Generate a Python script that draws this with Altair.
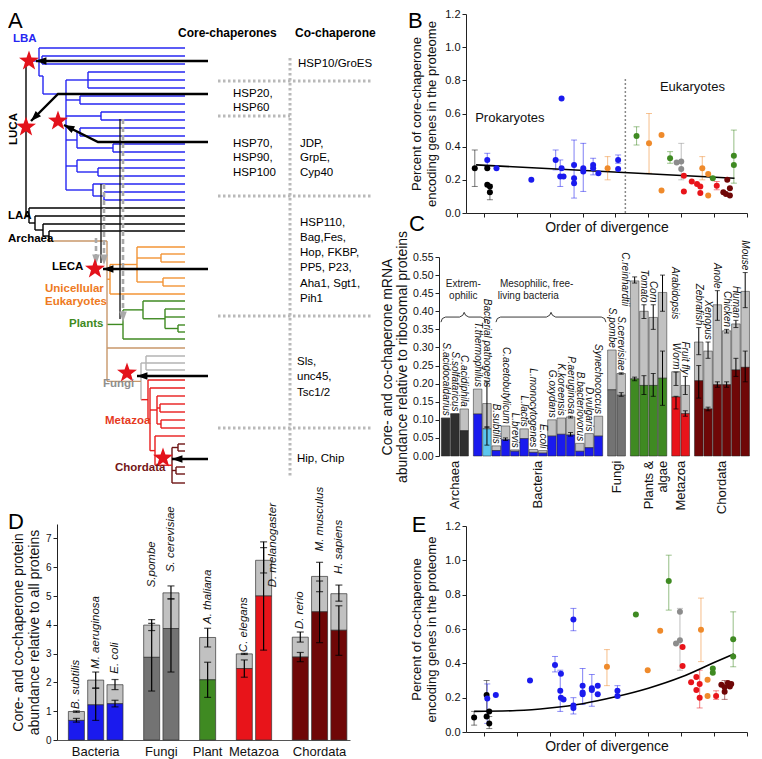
import math
import altair as alt
import pandas as pd

FONT = "Liberation Sans, Arial, Helvetica, sans-serif"

# ---------------- colours
BLUE = "#1a1aee"; BLACK = "#000000"; ORANGE = "#ef8a2b"; GREEN = "#3f8a22"
GREY = "#8c8c8c"; RED = "#e8141a"; DRED = "#6f0707"; CYAN = "#5dc6ee"
LIGHT = "#c1c1c1"; ARCHC = "#2f2f2f"; FUNGC = "#737373"
T_BLUE = "#2626f2"; T_ORANGE = "#f39436"; T_GREEN = "#3f8a22"; T_TAN = "#c8976a"
T_GREY = "#b3b3b3"; T_RED = "#e81c1c"; T_DRED = "#6d1414"; STARC = "#e3121b"; DOTC = "#b9b9b9"

# ---------------- layout (pixels)
A_W, A_H = 325, 474
D_W, D_H = 293, 216
B_W, B_H = 281, 199
C_W, C_H = 284, 199
E_W, E_H = 281, 206
SP_LEFT, SP_BC, SP_CE, SP_H = -2, -22, -2, -2
A_X0, A_Y0 = 57, 13

# ================= PANEL A data (schematic units)
a_head_txt = ["Core-chaperones", "Co-chaperone"]
a_head_x = [178, 295]
a_head_y = [32, 32]
a_txt = ["HSP10/GroES", "HSP20,", "HSP60", "HSP70,", "HSP90,", "HSP100", "JDP,", "GrpE,", "Cyp40",
         "HSP110,", "Bag,Fes,", "Hop, FKBP,", "PP5, P23,", "Aha1, Sgt1,", "Pih1", "Sls,", "unc45,", "Tsc1/2", "Hip, Chip"]
a_txt_x = [298, 233, 233, 233, 233, 233, 300, 300, 300, 300, 300, 300, 300, 300, 300, 297, 297, 297, 297]
a_txt_y = [63, 93, 107, 143, 157, 172, 143, 157, 172, 222, 237, 252, 267, 283, 298, 361, 376, 392, 458]
a_lab_txt = ["LBA", "LAA", "Archaea", "LECA", "Unicellular", "Eukaryotes", "Plants", "Fungi", "Metazoa", "Chordata"]
a_lab_x = [13, 8, 8, 52, 45, 45, 69, 103, 105, 115]
a_lab_y = [38, 215, 238, 266, 288, 301, 323, 383, 420, 467]
a_lab_col = [T_BLUE, BLACK, BLACK, BLACK, "#ee7a22", "#ee7a22", T_GREEN, "#8f8f8f", "#e63a1e", "#741616"]
star_x = [29, 26, 58, 95, 127, 163]
star_y = [60, 126, 120, 268, 372, 457]
arrow_paths = [[(208, 60), (36, 60)], [(208, 93), (58, 93), (31, 120)], [(208, 141), (98, 141), (64, 124)],
               [(208, 268), (103, 268)], [(208, 375), (137, 375)], [(208, 458), (172, 458)]]
grey_paths = [[(123, 118), (123, 312)], [(104, 183), (104, 256)], [(96, 237), (96, 256)]]
grey_tips = [(123, 321), (104, 264), (96, 264)]
thin_paths = [[(120, 118), (120, 318)], [(101, 183), (101, 262)]]
dot_x = [290, 218, 218, 218, 218, 218]
dot_x2 = [290, 372, 290, 372, 372, 372]
dot_y = [57, 80, 115, 195, 315, 427]
dot_y2 = [477, 80, 115, 195, 315, 427]

LEAF_END = 185


def N(x, col, kids, y=None, stem=None):
    return {"x": x, "c": col, "k": kids, "y": y, "s": stem}


blue_clade = N(39, T_BLUE, [47, N(42, T_BLUE, [55, 63]),
                            N(43, T_BLUE, [N(66, T_BLUE, [
                                N(88, T_BLUE, [71, 79, 87]),
                                N(80, T_BLUE, [95, 103]),
                                N(101, T_BLUE, [111, 119]),
                                N(77, T_BLUE, [N(80, T_BLUE, [127, 135]), N(113, T_BLUE, [143, 151])]),
                                N(77, T_BLUE, [159, N(98, T_BLUE, [167, 175])]),
                                N(93, T_BLUE, [183, N(104, T_BLUE, [191, 199])]),
                            ], y=93)], y=75)], y=60)
fungi_clade = N(146, T_GREY, [355, 362, 369])
chord_clade = N(172, T_DRED, [N(178, T_DRED, [443, 450]), 458, N(176, T_DRED, [466, 473]), 482], stem=T_RED)
meta_clade = N(148, T_RED, [379, N(150, T_RED, [387, N(157, T_RED, [395, N(160, T_RED, [403, 411]),
                                                                      N(161, T_RED, [419, 427])]),
                                                 N(155, T_RED, [435, chord_clade])])])
opist_clade = N(141, T_GREY, [fungi_clade, meta_clade], stem=T_TAN)
orange_clade = N(110, T_ORANGE, [N(137, T_ORANGE, [246, N(161, T_ORANGE, [253, 261]),
                                                   N(163, T_ORANGE, [277, 285])]), 293])
green_clade = N(123, T_GREEN, [N(143, T_GREEN, [300, N(165, T_GREEN, [308, 316, N(178, T_GREEN, [324, 331])])]), 338])
euk_clade = N(107, T_TAN, [orange_clade, green_clade, 347, opist_clade], y=240)
arch_clade = N(29, BLACK, [207, N(35, BLACK, [215, N(43, BLACK, [223, N(49, BLACK, [230, euk_clade])])])])
tree_root = N(26, BLACK, [blue_clade, arch_clade])

# ================= PANEL B data
b_grp = ["k"] * 5 + ["b"] * 18 + ["o"] * 7 + ["g"] * 5 + ["s"] * 3 + ["r"] * 7 + ["d"] * 5
b_x = [-0.14, 0.05, 0.05, 0.09, 0.09,
       0.05, 0.19, 0.72, 1.09, 1.18, 1.16, 1.21, 1.18, 1.37, 1.37, 1.37, 1.51, 1.51, 1.66, 1.66, 1.74, 2.04, 2.04,
       1.88, 2.51, 2.70, 2.70, 3.32, 3.41, 3.41,
       2.32, 2.83, 3.48, 3.80, 3.80,
       2.93, 3.00, 3.00,
       3.04, 3.04, 3.16, 3.24, 3.29, 3.29, 3.54,
       3.70, 3.74, 3.64, 3.68, 3.74]
b_y = [0.27, 0.27, 0.17, 0.16, 0.125,
       0.32, 0.27, 0.20, 0.32, 0.69, 0.22, 0.22, 0.27, 0.29, 0.21, 0.18, 0.27, 0.25, 0.29, 0.27, 0.24, 0.32, 0.265,
       0.27, 0.42, 0.47, 0.135, 0.27, 0.235, 0.105,
       0.465, 0.33, 0.21, 0.345, 0.29,
       0.305, 0.31, 0.265,
       0.225, 0.13, 0.19, 0.175, 0.16, 0.12, 0.165,
       0.20, 0.15, 0.125, 0.115, 0.105]
b_lo = [0.16, None, None, None, 0.08,
        0.28, None, None, 0.26, None, 0.16, None, None, None, None, 0.09, None, 0.13, None, 0.23, None, 0.30, None,
        0.20, 0.24, None, None, 0.20, None, None,
        0.41, 0.30, None, 0.18, None,
        None, 0.20, None,
        None, None, None, None, None, None, 0.14,
        None, None, None, None, None]
b_hi = [0.38, None, None, None, 0.17,
        0.36, None, None, 0.38, None, 0.32, None, None, None, None, 0.44, None, 0.42, None, 0.33, None, 0.35, None,
        0.34, 0.60, None, None, 0.34, None, None,
        0.52, 0.37, None, 0.50, None,
        None, 0.42, None,
        None, None, None, None, None, None, 0.19,
        None, None, None, None, None]
b_line_x = [-0.12, 3.81]
b_line_y = [0.29, 0.21]
b_div_x, b_div_top = 2.15, 0.82

# ================= PANEL E data
e_grp = ["k"] * 5 + ["b"] * 20 + ["o"] * 6 + ["g"] * 6 + ["s"] * 3 + ["r"] * 8 + ["d"] * 6
e_x = [-0.15, 0.04, 0.04, 0.08, 0.08,
       0.05, 0.18, 0.70, 1.08, 1.17, 1.16, 1.17, 1.21, 1.36, 1.36, 1.36, 1.50, 1.50, 1.50, 1.64, 1.64, 1.73, 1.73, 2.03, 2.03,
       1.87, 2.49, 2.68, 3.30, 3.40, 3.40,
       2.31, 2.81, 3.48, 3.48, 3.79, 3.79,
       2.92, 2.98, 2.98,
       3.02, 3.02, 3.15, 3.23, 3.23, 3.28, 3.28, 3.53,
       3.61, 3.66, 3.66, 3.71, 3.74, 3.76]
e_y = [0.084, 0.215, 0.09, 0.12, 0.05,
       0.195, 0.215, 0.30, 0.39, 0.34, 0.24, 0.20, 0.19, 0.655, 0.155, 0.14, 0.27, 0.23, 0.22, 0.255, 0.245, 0.27, 0.22, 0.24, 0.21,
       0.38, 0.36, 0.59, 0.595, 0.305, 0.21,
       0.685, 0.88, 0.37, 0.345, 0.54, 0.44,
       0.515, 0.535, 0.70,
       0.495, 0.385, 0.29, 0.32, 0.245, 0.28, 0.20, 0.21,
       0.275, 0.235, 0.26, 0.285, 0.265, 0.28]
e_lo = [0.04, 0.12, None, None, 0.02,
        0.05, None, None, 0.35, None, 0.12, None, None, 0.59, None, 0.105, 0.16, None, None, None, 0.15, None, None, 0.20, None,
        0.27, None, None, 0.41, None, None,
        None, 0.71, None, None, 0.38, None,
        None, None, 0.36,
        None, None, None, None, None, None, 0.14, 0.19,
        None, 0.19, None, None, None, None]
e_hi = [0.12, 0.30, None, None, 0.09,
        0.28, None, None, 0.44, None, 0.36, None, None, 0.72, None, 0.20, 0.37, None, None, None, 0.335, None, None, 0.27, None,
        0.48, None, None, 0.78, None, None,
        None, 1.03, None, None, 0.70, None,
        None, None, 0.72,
        None, None, None, None, None, None, 0.36, 0.24,
        None, 0.30, None, None, None, None]
e_line_x = [-0.15, 0.5, 1.0, 1.5, 2.0, 2.5, 3.0, 3.5, 3.8]
e_line_y = [0.12, 0.125, 0.14, 0.165, 0.205, 0.255, 0.32, 0.405, 0.455]

# ================= PANEL C data
c_names = ["S.acidocaldarius", "S.solfataricus", "C.acidiphila", "T.thermophilus", "Bacterial pathogens",
           "B.subtilis", "C.acetobutylicum", "L.brevis", "L.lactis", "L.monocytogenes", "E.coli", "G.oxydans",
           "K.koreensis", "P.aeruginosa", "B.bacteriovorus", "D.vulgaris", "Synechococcus", "S.pombe",
           "S.cerevisiae", "C.reinhardtii", "Tomato", "Corn", "Arabidopsis", "Worm", "Fruit fly", "Zebrafish",
           "Xenopus", "Anole", "Chicken", "Human", "Mouse"]
c_grp = ["Archaea"] * 3 + ["Bacteria"] * 14 + ["Fungi"] * 2 + ["Plants &|algae"] * 4 + ["Metazoa"] * 2 + ["Chordata"] * 6
c_core = [0.104, 0.116, 0.070, 0.116, 0.075, 0.015, 0.045, 0.013, 0.048, 0.010, 0.008, 0.055, 0.060, 0.058, 0.013,
          0.023, 0.055, 0.183, 0.168, 0.213, 0.195, 0.195, 0.215, 0.163, 0.117, 0.208, 0.130, 0.197, 0.197, 0.238, 0.245]
c_total = [0.105, 0.117, 0.130, 0.185, 0.145, 0.028, 0.083, 0.017, 0.075, 0.018, 0.015, 0.100, 0.105, 0.108, 0.035,
           0.062, 0.110, 0.293, 0.228, 0.484, 0.400, 0.383, 0.452, 0.233, 0.195, 0.315, 0.290, 0.418, 0.346, 0.365, 0.455]
c_core_lo = [None, None, None, None, 0.03, None, 0.043, None, None, None, None, None, None, 0.055, None, None, None,
             None, 0.165, 0.208, 0.17, 0.165, 0.14, 0.13, 0.11, 0.16, 0.125, 0.19, 0.19, 0.22, 0.205]
c_core_hi = [None, None, None, None, 0.08, None, 0.05, None, None, None, None, None, None, 0.065, None, None, None,
             None, 0.175, 0.218, 0.222, 0.228, 0.29, 0.165, 0.125, 0.25, 0.135, 0.205, 0.205, 0.27, 0.29]
c_tot_lo = [None, None, None, None, 0.08, None, None, None, None, None, None, None, None, 0.105, None, None, None,
            None, 0.226, 0.478, 0.38, 0.35, 0.40, 0.195, 0.17, 0.28, 0.27, 0.375, 0.34, 0.355, 0.41]
c_tot_hi = [None, None, None, None, 0.205, None, None, None, None, None, None, None, None, 0.11, None, None, None,
            None, 0.23, 0.495, 0.418, 0.418, 0.50, 0.232, 0.22, 0.355, 0.315, 0.457, 0.35, 0.375, 0.507]
c_lab_shift = [0] * 19 + [-1.0, 0, 0, 1.3] + [0] * 8
c_lab_y = [None] * 4 + [0.19] + [None] * 14 + [0.414, None, None, 0.378] + [None] * 8
c_brace_a = [-0.5, 5.42]
c_brace_b = [4.3, 17.26]
c_brace_tip = [2.0, 11.35]
c_brace_y = 0.384
c_brace_txt = ["Extrem-", "ophilic", "Mesophilic, free-", "living bacteria"]
c_brace_tx = [1.9, 1.9, 9.8, 8.9]
c_brace_ty = [0.476, 0.442, 0.476, 0.442]

# ================= PANEL D data
d_names = ["B. subtilis", "M. aeruginosa", "E. coli", "S.pombe", "S. cerevisiae", "A. thaliana", "C. elegans",
           "D. melanogaster", "D. rerio", "M. musculus", "H. sapiens"]
d_grp = ["Bacteria"] * 3 + ["Fungi"] * 2 + ["Plant"] + ["Metazoa"] * 2 + ["Chordata"] * 3
d_core = [0.68, 1.22, 1.26, 2.87, 3.87, 2.09, 2.48, 5.00, 2.88, 4.45, 3.81]
d_total = [0.99, 2.08, 1.92, 3.99, 5.11, 3.56, 2.99, 6.24, 3.57, 5.68, 5.08]
d_core_lo = [0.62, 0.68, 1.15, 1.70, 2.36, 1.48, 2.18, 3.12, 2.72, 3.38, 2.94]
d_core_hi = [0.75, 1.80, 1.38, 4.05, 4.90, 2.70, 2.78, 6.88, 3.04, 5.52, 4.66]
d_tot_lo = [0.96, 1.80, 1.75, 3.80, 4.90, 3.23, 2.97, 5.80, 3.40, 5.15, 4.82]
d_tot_hi = [1.01, 2.36, 2.10, 4.18, 5.35, 3.88, 3.01, 6.68, 3.75, 6.17, 5.38]
d_lab_y = [1.08, 2.47, 2.30, 5.30, 5.83, 4.03, 3.05, 5.30, 3.85, 6.55, 5.76]
d_lab_shift = [0, 0, 0, 0, 0, 0, 0, 0.5, 0, 0, 0]

GROUP_COL = {"Archaea": ARCHC, "Bacteria": BLUE, "Fungi": FUNGC, "Plants &|algae": GREEN, "Plant": GREEN,
             "Metazoa": RED, "Chordata": DRED}
PCOL = {"k": BLACK, "b": BLUE, "o": ORANGE, "g": GREEN, "s": GREY, "r": RED, "d": DRED}


def slots_with_gaps(groups, gap):
    out, s, prev = [], 0.0, None
    for g in groups:
        if prev is not None:
            s += 1 + (gap if g != prev else 0)
        out.append(s)
        prev = g
    return out


def num(v):
    return pd.to_numeric(pd.Series(v), errors="coerce")


# ================= PANEL A build
segs = []


def walk(node, parent_x):
    ys = []
    for ch in node["k"]:
        if isinstance(ch, dict):
            ys.append(walk(ch, node["x"]))
        else:
            segs.append((node["x"], LEAF_END, ch, ch, node["c"]))
            ys.append(ch)
    y = node["y"] if node["y"] is not None else (ys[0] + ys[-1]) / 2
    segs.append((node["x"], node["x"], min(ys + [y]), max(ys + [y]), node["c"]))
    if parent_x is not None:
        segs.append((parent_x, node["x"], y, y, node["s"] or node["c"]))
    return y


walk(tree_root, None)
seg_df = pd.DataFrame(segs, columns=["x", "x2", "y", "y2", "c"])

xa = alt.Scale(domain=[A_X0, A_X0 + A_W], nice=False, zero=False)
ya = alt.Scale(domain=[A_Y0, A_Y0 + A_H], nice=False, zero=False, reverse=True)


def AX(f="x"):
    return alt.X(f + ":Q", scale=xa, axis=None)


def AY(f="y"):
    return alt.Y(f + ":Q", scale=ya, axis=None)


star_pts = []
for i in range(10):
    r = 1.0 if i % 2 == 0 else 0.4
    ang = math.radians(-90 + 36 * i)
    star_pts.append(f"{r * math.cos(ang):.3f},{r * math.sin(ang):.3f}")
STAR_PATH = "M" + " L".join(star_pts) + " Z"
ARROW_PATH = "M0,0 L0.62,1.7 L-0.62,1.7 Z"


def path_df(paths):
    rows = []
    for i, p in enumerate(paths):
        for j, (x, y) in enumerate(p):
            rows.append((i, j, x, y))
    return pd.DataFrame(rows, columns=["id", "o", "x", "y"])


def head_df(paths):
    rows = []
    for p in paths:
        (x1, y1), (x2, y2) = p[-2], p[-1]
        rows.append((x2, y2, math.degrees(math.atan2(x2 - x1, -(y2 - y1))) % 360))
    return pd.DataFrame(rows, columns=["x", "y", "ang"])


dot_df = pd.DataFrame({"x": dot_x, "x2": dot_x2, "y": dot_y, "y2": dot_y2})
A_layers = [
    alt.Chart(dot_df).mark_rule(color=DOTC, strokeWidth=3, strokeDash=[2.5, 2.5]).encode(
        x=AX(), x2="x2:Q", y=AY(), y2="y2:Q"),
    alt.Chart(seg_df).mark_rule(strokeWidth=1.4).encode(
        x=AX(), x2="x2:Q", y=AY(), y2="y2:Q", color=alt.Color("c:N", scale=None)),
    alt.Chart(path_df(thin_paths)).mark_line(color="#111", strokeWidth=1.3).encode(
        x=AX(), y=AY(), detail="id:N", order="o:Q"),
    alt.Chart(path_df(grey_paths)).mark_line(color="#a9a9a9", strokeWidth=2.6, strokeDash=[5, 3]).encode(
        x=AX(), y=AY(), detail="id:N", order="o:Q"),
    alt.Chart(pd.DataFrame({"x": [t[0] for t in grey_tips], "y": [t[1] for t in grey_tips], "ang": [180] * 3}))
    .mark_point(shape=ARROW_PATH, filled=True, size=150, color="#a9a9a9", opacity=1, strokeWidth=0).encode(
        x=AX(), y=AY(), angle=alt.Angle("ang:Q", scale=None)),
    alt.Chart(pd.DataFrame({"x": star_x, "y": star_y})).mark_point(
        shape=STAR_PATH, filled=True, size=440, color=STARC, opacity=1, strokeWidth=0).encode(x=AX(), y=AY()),
    alt.Chart(path_df(arrow_paths)).mark_line(color="#000", strokeWidth=2.4).encode(
        x=AX(), y=AY(), detail="id:N", order="o:Q"),
    alt.Chart(head_df(arrow_paths)).mark_point(
        shape=ARROW_PATH, filled=True, size=150, color="#000", opacity=1, strokeWidth=0).encode(
        x=AX(), y=AY(), angle=alt.Angle("ang:Q", scale=None)),
    alt.Chart(pd.DataFrame({"x": a_lab_x, "y": a_lab_y, "t": a_lab_txt, "c": a_lab_col})).mark_text(
        align="left", baseline="middle", fontSize=11.5, fontWeight="bold", font=FONT).encode(
        x=AX(), y=AY(), text="t:N", color=alt.Color("c:N", scale=None)),
    alt.Chart(pd.DataFrame({"x": [14], "y": [128], "t": ["LUCA"]})).mark_text(
        angle=270, align="center", baseline="middle", fontSize=11.5, fontWeight="bold", font=FONT,
        color="#000").encode(x=AX(), y=AY(), text="t:N"),
    alt.Chart(pd.DataFrame({"x": a_head_x, "y": a_head_y, "t": a_head_txt})).mark_text(
        align="left", baseline="middle", fontSize=12, fontWeight="bold", font=FONT, color="#000").encode(
        x=AX(), y=AY(), text="t:N"),
    alt.Chart(pd.DataFrame({"x": a_txt_x, "y": a_txt_y, "t": a_txt})).mark_text(
        align="left", baseline="middle", fontSize=11.5, font=FONT, color="#000").encode(
        x=AX(), y=AY(), text="t:N"),
    alt.Chart(pd.DataFrame({"x": [8], "y": [20], "t": ["A"]})).mark_text(
        align="left", baseline="middle", fontSize=22, font=FONT, color="#000").encode(x=AX(), y=AY(), text="t:N"),
]
chart_A = alt.layer(*A_layers).properties(width=A_W, height=A_H)


# ================= PANEL B / E build
def scatter_panel(grp, xs_, ys_, lo, hi, lx, ly, ytitle, letter_xy, letter, notes):
    d = pd.DataFrame({"g": grp, "x": xs_, "y": ys_, "lo": num(lo), "hi": num(hi)})
    d["col"] = d["g"].map(PCOL)
    err = d.dropna(subset=["lo"])
    xs = alt.Scale(domain=[-0.2735, 4.0], nice=False, zero=False)
    ys = alt.Scale(domain=[0, 1.2], nice=False, zero=False)
    xax = alt.Axis(values=[0, 0.5, 1, 1.5, 2, 2.5, 3, 3.5, 4], labels=False, title="Order of divergence",
                   titleFontSize=14, titlePadding=3, tickSize=4, grid=False)
    yax = alt.Axis(values=[0, 0.2, 0.4, 0.6, 0.8, 1.0, 1.2], format=".1f", title=ytitle, titleFontSize=13,
                   titleLineHeight=15, titlePadding=6, labelFontSize=11, tickSize=4, grid=False)
    X = lambda f: alt.X(f + ":Q", scale=xs, axis=xax)
    Y = lambda f: alt.Y(f + ":Q", scale=ys, axis=yax)
    col = alt.Color("col:N", scale=None)
    layers = [
        alt.Chart(err).mark_rule(strokeWidth=1.1, opacity=0.5).encode(x=X("x"), y=Y("lo"), y2="hi:Q", color=col),
        alt.Chart(err).mark_tick(orient="horizontal", size=6, thickness=1, opacity=0.5).encode(
            x=X("x"), y=Y("lo"), color=col),
        alt.Chart(err).mark_tick(orient="horizontal", size=6, thickness=1, opacity=0.5).encode(
            x=X("x"), y=Y("hi"), color=col),
        alt.Chart(pd.DataFrame({"x": lx, "y": ly})).mark_line(
            color="#000", strokeWidth=1.6, interpolate="monotone").encode(x=X("x"), y=Y("y")),
        alt.Chart(d).mark_circle(size=36, opacity=1).encode(x=X("x"), y=Y("y"), color=col),
        alt.Chart(pd.DataFrame({"x": [letter_xy[0]], "y": [letter_xy[1]], "t": [letter]})).mark_text(
            fontSize=22, font=FONT, color="#000").encode(x=X("x"), y=Y("y"), text="t:N"),
    ]
    if notes is not None:
        layers.append(alt.Chart(pd.DataFrame(notes)).mark_text(fontSize=13, font=FONT, color="#111").encode(
            x=X("x"), y=Y("y"), text="t:N"))
    return layers, X, Y


b_layers, bX, bY = scatter_panel(b_grp, b_x, b_y, b_lo, b_hi, b_line_x, b_line_y,
                                 ["Percent of core-chaperone", "encoding genes in the proteome"],
                                 (-1.045, 1.155), "B",
                                 {"x": [0.394, 3.17], "y": [0.573, 0.76], "t": ["Prokaryotes", "Eukaryotes"]})
b_layers.insert(0, alt.Chart(pd.DataFrame({"x": [b_div_x], "y": [0.0], "y2": [b_div_top]})).mark_rule(
    color="#888", strokeWidth=1.5, strokeDash=[2, 2]).encode(x=bX("x"), y=bY("y"), y2="y2:Q"))
chart_B = alt.layer(*b_layers).properties(width=B_W, height=B_H)

e_layers, eX, eY = scatter_panel(e_grp, e_x, e_y, e_lo, e_hi, e_line_x, e_line_y,
                                 ["Percent of co-chaperone", "encoding genes in the proteome"],
                                 (-0.985, 1.206), "E", None)
chart_E = alt.layer(*e_layers).properties(width=E_W, height=E_H)

# ================= PANEL C build
C_STEP, C_OFF = 9.29, -20.4
c_slot = slots_with_gaps(c_grp, 0.45)
cd = pd.DataFrame({"n": c_names, "g": c_grp, "s": c_slot, "core": c_core, "total": c_total,
                   "clo": num(c_core_lo), "chi": num(c_core_hi), "tlo": num(c_tot_lo), "thi": num(c_tot_hi)})
cd["x0"] = cd["s"] - 0.46
cd["x1"] = cd["s"] + 0.46
cd["base"] = 0.0
cd["col"] = [GROUP_COL[g] for g in c_grp]
cd.loc[cd["n"] == "Bacterial pathogens", "col"] = CYAN
top = pd.concat([cd["total"], cd["thi"].fillna(0)], axis=1).max(axis=1)
cd["ly"] = [ov if ov is not None else t + 0.006 for ov, t in zip(c_lab_y, top)]
cd["lx"] = cd["s"] + pd.Series(c_lab_shift)
xc = alt.Scale(domain=[-C_OFF / C_STEP, (C_W - C_OFF) / C_STEP], nice=False, zero=False)
yc = alt.Scale(domain=[0, 0.55], nice=False, zero=False)
c_yax = alt.Axis(values=[round(0.05 * i, 2) for i in range(12)], format=".2f", offset=27,
                 title=["Core- and co-chaperone mRNA", "abundance relative to ribosomal proteins"],
                 titleFontSize=14, titleLineHeight=15, titlePadding=3, labelFontSize=10.5, tickSize=4, grid=False)
CX = lambda f: alt.X(f + ":Q", scale=xc, axis=None)
CY = lambda f: alt.Y(f + ":Q", scale=yc, axis=c_yax)
c_err_core = cd.dropna(subset=["clo"])
c_err_tot = cd.dropna(subset=["tlo"])
brace_rows = []
for i, (a, b, m) in enumerate(zip(c_brace_a, c_brace_b, c_brace_tip)):
    y0 = c_brace_y
    pts = [(a, y0 - 0.014), (a + 0.15, y0 - 0.004), (a + 0.5, y0), (m - 0.5, y0), (m - 0.15, y0 + 0.005),
           (m, y0 + 0.013), (m + 0.15, y0 + 0.005), (m + 0.5, y0), (b - 0.5, y0), (b - 0.15, y0 - 0.004),
           (b, y0 - 0.014)]
    for j, (px, py) in enumerate(pts):
        brace_rows.append((i, j, px, py))
brace_df = pd.DataFrame(brace_rows, columns=["id", "o", "x", "y"])
grp_names = list(dict.fromkeys(c_grp))
grp_df = pd.DataFrame({"t": grp_names,
                       "x": [sum(s for s, g in zip(c_slot, c_grp) if g == gn) / c_grp.count(gn) for gn in grp_names],
                       "y": [-0.013] * len(grp_names)})
C_layers = [
    alt.Chart(cd).mark_bar(stroke="#222", strokeWidth=0.5).encode(
        x=CX("x0"), x2="x1:Q", y=CY("core"), y2="total:Q", color=alt.value(LIGHT)),
    alt.Chart(cd).mark_bar(stroke="#222", strokeWidth=0.5).encode(
        x=CX("x0"), x2="x1:Q", y=CY("base"), y2="core:Q", color=alt.Color("col:N", scale=None)),
    alt.Chart(c_err_core).mark_rule(color="#000", strokeWidth=1).encode(x=CX("s"), y=CY("clo"), y2="chi:Q"),
    alt.Chart(c_err_core).mark_tick(orient="horizontal", size=5, thickness=1, color="#000").encode(
        x=CX("s"), y=CY("clo")),
    alt.Chart(c_err_core).mark_tick(orient="horizontal", size=5, thickness=1, color="#000").encode(
        x=CX("s"), y=CY("chi")),
    alt.Chart(c_err_tot).mark_rule(color="#000", strokeWidth=1).encode(x=CX("s"), y=CY("tlo"), y2="thi:Q"),
    alt.Chart(c_err_tot).mark_tick(orient="horizontal", size=5, thickness=1, color="#000").encode(
        x=CX("s"), y=CY("tlo")),
    alt.Chart(c_err_tot).mark_tick(orient="horizontal", size=5, thickness=1, color="#000").encode(
        x=CX("s"), y=CY("thi")),
    alt.Chart(cd).mark_text(angle=90, align="right", baseline="middle", fontStyle="italic", fontSize=10,
                            font=FONT, color="#111").encode(x=CX("lx"), y=CY("ly"), text="n:N"),
    alt.Chart(brace_df).mark_line(color="#222", strokeWidth=0.9).encode(
        x=CX("x"), y=CY("y"), detail="id:N", order="o:Q"),
    alt.Chart(pd.DataFrame({"x": c_brace_tx, "y": c_brace_ty, "t": c_brace_txt})).mark_text(
        fontSize=10, font=FONT, color="#222").encode(x=CX("x"), y=CY("y"), text="t:N"),
    alt.Chart(grp_df).mark_text(angle=270, align="right", baseline="middle", fontSize=13, font=FONT,
                                lineBreak="|", lineHeight=14, color="#111").encode(
        x=CX("x"), y=CY("y"), text="t:N"),
    alt.Chart(pd.DataFrame({"x": [-3.08], "y": [0.641], "t": ["C"]})).mark_text(
        fontSize=22, font=FONT, color="#000").encode(x=CX("x"), y=CY("y"), text="t:N"),
]
chart_C = alt.layer(*C_layers).properties(width=C_W, height=C_H)

# ================= PANEL D build
D_STEP, D_OFF = 19.3, 19.4
d_slot = slots_with_gaps(d_grp, 0.9)
dd = pd.DataFrame({"n": d_names, "g": d_grp, "s": d_slot, "core": d_core, "total": d_total,
                   "clo": d_core_lo, "chi": d_core_hi, "tlo": d_tot_lo, "thi": d_tot_hi, "ly": d_lab_y})
dd["x0"] = dd["s"] - 0.415
dd["x1"] = dd["s"] + 0.415
dd["base"] = 0.0
dd["col"] = [GROUP_COL[g] for g in d_grp]
dd["lx"] = dd["s"] + pd.Series(d_lab_shift)
xd = alt.Scale(domain=[-D_OFF / D_STEP, (D_W - D_OFF) / D_STEP], nice=False, zero=False)
yd = alt.Scale(domain=[0, 7.5], nice=False, zero=False)
d_yax = alt.Axis(values=list(range(8)), title=["Core- and co-chaperone protein", "abundance relative to all proteins"],
                 titleFontSize=14, titleLineHeight=16, titlePadding=4, labelFontSize=10, tickSize=4, grid=False)
d_xax = alt.Axis(labels=False, ticks=False, title=None, grid=False, domainColor="#555")
DX = lambda f: alt.X(f + ":Q", scale=xd, axis=d_xax)
DY = lambda f: alt.Y(f + ":Q", scale=yd, axis=d_yax)
dgrp_names = list(dict.fromkeys(d_grp))
dgrp_df = pd.DataFrame({"t": dgrp_names,
                        "x": [sum(s for s, g in zip(d_slot, d_grp) if g == gn) / d_grp.count(gn) for gn in dgrp_names],
                        "y": [-0.42] * len(dgrp_names)})
D_layers = [
    alt.Chart(dd).mark_bar(stroke="#333", strokeWidth=0.7).encode(
        x=DX("x0"), x2="x1:Q", y=DY("core"), y2="total:Q", color=alt.value(LIGHT)),
    alt.Chart(dd).mark_bar(stroke="#333", strokeWidth=0.7).encode(
        x=DX("x0"), x2="x1:Q", y=DY("base"), y2="core:Q", color=alt.Color("col:N", scale=None)),
]
for lo_f, hi_f in (("clo", "chi"), ("tlo", "thi")):
    D_layers += [
        alt.Chart(dd).mark_rule(color="#000", strokeWidth=1.2).encode(x=DX("s"), y=DY(lo_f), y2=hi_f + ":Q"),
        alt.Chart(dd).mark_tick(orient="horizontal", size=7, thickness=1.2, color="#000").encode(
            x=DX("s"), y=DY(lo_f)),
        alt.Chart(dd).mark_tick(orient="horizontal", size=7, thickness=1.2, color="#000").encode(
            x=DX("s"), y=DY(hi_f)),
    ]
D_layers += [
    alt.Chart(dd).mark_text(angle=270, align="left", baseline="middle", fontStyle="italic", fontSize=11.5,
                            font=FONT, color="#111").encode(x=DX("lx"), y=DY("ly"), text="n:N"),
    alt.Chart(dgrp_df).mark_text(fontSize=13, font=FONT, color="#111").encode(x=DX("x"), y=DY("y"), text="t:N"),
    alt.Chart(pd.DataFrame({"x": [-3.13], "y": [7.57], "t": ["D"]})).mark_text(
        fontSize=22, font=FONT, color="#000").encode(x=DX("x"), y=DY("y"), text="t:N"),
]
chart_D = alt.layer(*D_layers).properties(width=D_W, height=D_H)

# ================= assemble
left = alt.vconcat(chart_A, chart_D, spacing=SP_LEFT)
right = alt.vconcat(alt.vconcat(chart_B, chart_C, spacing=SP_BC), chart_E, spacing=SP_CE)
chart = (alt.hconcat(left, right, spacing=SP_H)
         .properties(padding=0)
         .configure_view(stroke=None)
         .configure_axis(labelFont=FONT, titleFont=FONT, labelColor="#111", titleColor="#111",
                         domainColor="#222", tickColor="#222", titleFontWeight="normal")
         .configure_text(font=FONT))
chart.save("out.html", embed_options={"renderer": "svg", "actions": False})
